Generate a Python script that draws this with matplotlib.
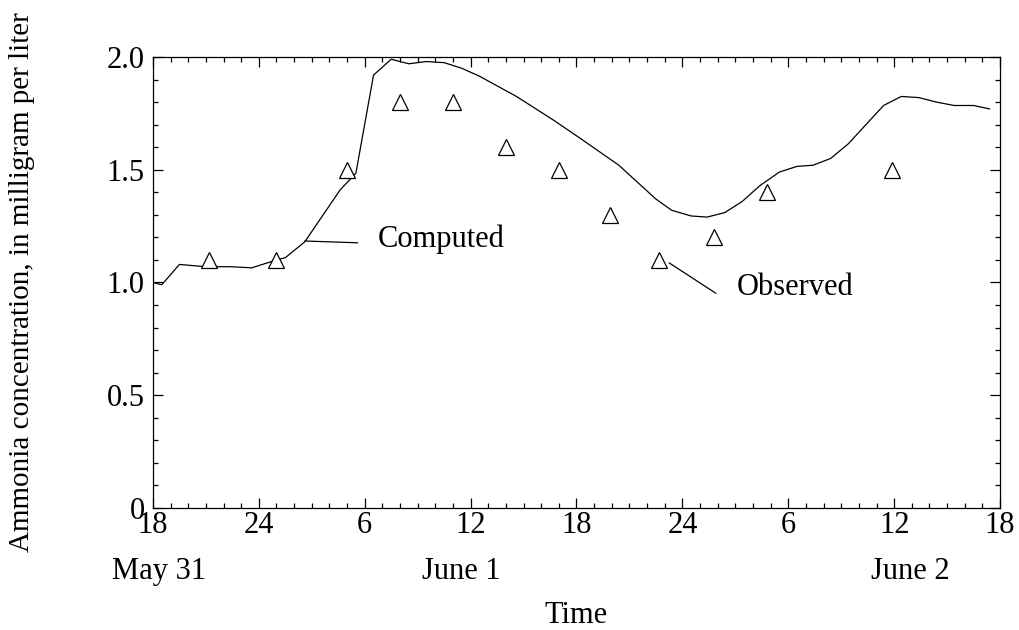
import numpy as np
import matplotlib.pyplot as plt
from matplotlib.ticker import MultipleLocator

plt.rcParams['font.family'] = ['Liberation Serif', 'DejaVu Serif']

# hours since 18:00 May 31
comp_t = [0, 0.5, 1.5, 3.0, 4.4, 5.6, 7.0, 7.5, 8.6, 10.6, 11.5, 12.5, 13.5, 14.5,
          15.5, 16.5, 17.5, 18.5, 20.6, 22.7, 24.2, 26.4, 28.5, 29.4, 30.5, 31.4,
          32.4, 33.4, 34.4, 35.5, 36.5, 37.4, 38.4, 39.4, 40.4, 41.4, 42.4, 43.4,
          44.4, 45.4, 46.5, 47.4]
comp_v = [1.00, 0.99, 1.08, 1.07, 1.07, 1.065, 1.10, 1.11, 1.18, 1.41, 1.485, 1.92,
          1.99, 1.97, 1.98, 1.975, 1.95, 1.915, 1.825, 1.72, 1.64, 1.52, 1.37, 1.32,
          1.295, 1.29, 1.31, 1.36, 1.43, 1.49, 1.515, 1.52, 1.55, 1.615, 1.70, 1.785,
          1.825, 1.82, 1.80, 1.785, 1.785, 1.77]

obs_t = [3.2, 7.0, 11.0, 14.0, 17.0, 20.0, 23.0, 25.9, 28.7, 31.8, 34.8, 41.9]
obs_v = [1.1, 1.1, 1.5, 1.8, 1.8, 1.6, 1.5, 1.3, 1.1, 1.2, 1.4, 1.5]

x_ticks = [0, 6, 12, 18, 24, 30, 36, 42, 48]
x_labels = ['18', '24', '6', '12', '18', '24', '6', '12', '18']
y_ticks = [0, 0.5, 1.0, 1.5, 2.0]
y_labels = ['0', '0.5', '1.0', '1.5', '2.0']
dates = [('May 31', 0.35), ('June 1', 17.5), ('June 2', 42.9)]

fs = 22

fig = plt.figure(figsize=(10.19, 6.30), dpi=100)
ax = fig.add_axes([0.1501, 0.1937, 0.8313, 0.7158])

ax.plot(comp_t, comp_v, color='black', lw=0.9)
ax.plot(obs_t, obs_v, linestyle='none', marker='^', ms=12, mfc='white',
        mec='black', mew=0.9)

ax.set_xlim(0, 48)
ax.set_ylim(0, 2.0)
ax.set_xticks(x_ticks)
ax.set_xticklabels(x_labels)
ax.set_yticks(y_ticks)
ax.set_yticklabels(y_labels)
ax.xaxis.set_minor_locator(MultipleLocator(1))
ax.yaxis.set_minor_locator(MultipleLocator(0.1))
ax.tick_params(which='both', direction='in', top=True, right=True,
               labelsize=fs, width=0.9)
ax.tick_params(which='major', length=7)
ax.tick_params(which='minor', length=3.5)
ax.tick_params(axis='x', pad=2)
ax.tick_params(axis='y', pad=6)
for s in ax.spines.values():
    s.set_linewidth(0.9)

for name, t in dates:
    ax.text(t, -0.14, name, transform=ax.get_xaxis_transform(),
            ha='center', va='center', fontsize=fs)

ax.set_xlabel('Time', fontsize=fs)
ax.xaxis.set_label_coords(0.5, -0.238)
ax.xaxis.label.set_va('center')
ax.set_ylabel('Ammonia concentration, in milligram per liter', fontsize=21,
              ha='center', va='center')
ax.yaxis.set_label_coords(-0.154, 0.5)

# leader lines for the labels
ax.annotate('', xy=(8.6, 1.184), xytext=(11.6, 1.176),
            arrowprops=dict(arrowstyle='-', color='black', lw=0.9,
                            shrinkA=0, shrinkB=0))
ax.text(12.75, 1.19, 'Computed', fontsize=fs, ha='left', va='center')
ax.annotate('', xy=(29.25, 1.087), xytext=(31.9, 0.952),
            arrowprops=dict(arrowstyle='-', color='black', lw=0.9,
                            shrinkA=0, shrinkB=0))
ax.text(33.1, 0.98, 'Observed', fontsize=fs, ha='left', va='center')

fig.savefig('out.png', dpi=100)
